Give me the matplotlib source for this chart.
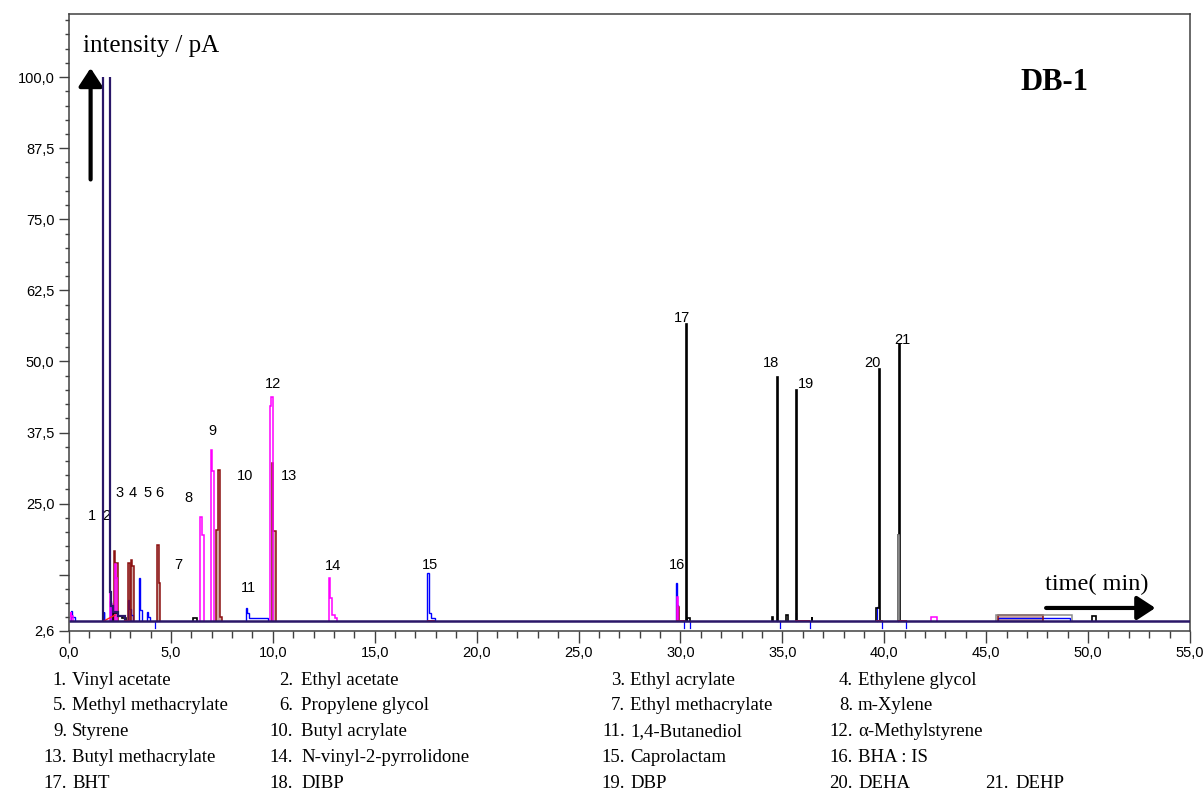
import matplotlib
matplotlib.use("Agg")
import matplotlib.pyplot as plt
from matplotlib.patches import Rectangle
from matplotlib.ticker import MultipleLocator, FixedLocator, FuncFormatter

# detector baseline (pA)
BASE = 4.4

# stepped peak profiles per trace: (edges in min, levels in pA)
navy_peaks = [
    ([1.69, 2.00, 2.05, 2.15, 2.40, 2.75], [101.0, 9.5, 7.0, 6.0, 5.2]),  # peaks 1+2, off scale
]
magenta_peaks = [
    ([0.08, 0.12, 0.20], [6.0, 5.2]),
    ([2.00, 2.06, 2.12], [9.3, 7.4]),
    ([2.25, 2.29, 2.34], [14.4, 12.0]),
    ([6.45, 6.52, 6.60], [22.6, 19.5]),
    ([6.96, 7.03, 7.12], [34.5, 30.8]),
    ([9.86, 9.93, 10.00], [42.1, 43.7]),
    ([12.74, 12.82, 12.90, 13.06, 13.15], [11.9, 8.4, 5.4, 4.9]),
    ([29.84, 29.88], [8.5]),
    ([42.30, 42.60], [5.0]),
]
darkred_peaks = [
    ([2.20, 2.25, 2.38], [16.7, 14.6]),
    ([2.90, 2.97], [14.6]),
    ([3.03, 3.10, 3.17], [15.1, 14.0]),
    ([4.34, 4.40, 4.47], [17.7, 11.1]),
    ([7.22, 7.33, 7.40, 7.50], [20.4, 30.9, 5.0]),
    ([9.98, 10.02, 10.15], [32.1, 20.1]),
    ([29.82, 29.93], [6.9]),
    ([45.60, 47.80], [5.4]),
]
blue_peaks = [
    ([0.10, 0.14, 0.30], [6.2, 5.0]),
    ([1.70, 1.73], [5.9]),
    ([2.00, 2.05], [7.8]),
    ([2.90, 2.96, 3.05, 3.12], [8.1, 6.5, 5.5]),
    ([3.42, 3.48, 3.60], [11.9, 6.3]),
    ([3.83, 3.90, 3.95], [6.0, 5.0]),
    ([8.68, 8.74, 8.81, 9.74], [6.6, 5.7, 4.9]),
    ([17.57, 17.64, 17.75, 17.98], [12.8, 5.7, 4.8]),
    ([29.78, 29.83, 29.90], [11.0, 7.2]),
    ([45.60, 49.10], [4.9]),
]
black_peaks = [
    ([2.15, 2.40, 2.60, 2.80], [5.8, 5.2, 4.9]),
    ([6.07, 6.27], [4.9]),
    ([30.27, 30.32], [56.5]),
    ([30.34, 30.47], [4.8]),
    ([34.50, 34.53], [5.0]),
    ([34.73, 34.79], [47.2]),
    ([35.17, 35.30], [5.4]),
    ([35.66, 35.71], [45.0]),
    ([36.43, 36.47], [5.0]),
    ([39.60, 39.72, 39.78], [6.6, 48.7]),
    ([40.65, 40.70, 40.78], [19.5, 53.0]),
    ([50.20, 50.40], [5.3]),
]
gray_peaks = [
    ([40.65, 40.70], [19.5]),
    ([45.50, 49.20], [5.4]),
]
# integration marks
red_segments = [(2.75, 2.95), (17.60, 17.90), (29.85, 30.17), (35.69, 36.30), (39.65, 39.87), (40.72, 41.06)]
blue_drops = [4.22, 30.17, 30.47, 34.89, 36.35, 39.87, 41.06]
blue_rises = [(34.76, 5.8), (35.68, 5.8), (39.62, 6.9), (40.66, 6.0), (30.29, 6.2)]

peak_label_text = ["1", "2", "3", "4", "5", "6", "7", "8", "9", "10", "11",
                   "12", "13", "14", "15", "16", "17", "18", "19", "20", "21"]
peak_label_t = [1.13, 1.82, 2.46, 3.14, 3.83, 4.42, 5.35, 5.85, 7.02, 8.65, 8.79,
                10.02, 10.80, 12.97, 17.73, 29.81, 30.10, 34.43, 36.15, 39.44, 40.87]
peak_label_y = [22.9, 22.9, 26.9, 26.9, 26.9, 26.9, 14.2, 26.0, 37.8, 29.9, 10.2,
                46.1, 29.9, 14.0, 14.2, 14.2, 57.7, 49.8, 46.1, 49.8, 53.7]

compounds = ["Vinyl acetate", "Ethyl acetate", "Ethyl acrylate", "Ethylene glycol",
             "Methyl methacrylate", "Propylene glycol", "Ethyl methacrylate", "m-Xylene",
             "Styrene", "Butyl acrylate", "1,4-Butanediol", "\u03b1-Methylstyrene",
             "Butyl methacrylate", "N-vinyl-2-pyrrolidone", "Caprolactam", "BHA : IS",
             "BHT", "DIBP", "DBP", "DEHA", "DEHP"]

y_ticks = [2.6, 12.5, 25.0, 37.5, 50.0, 62.5, 75.0, 87.5, 100.0]
y_tick_labels = ["2,6", "", "25,0", "37,5", "50,0", "62,5", "75,0", "87,5", "100,0"]

NAVY = "#2a1768"
MAGENTA = "#ff00ff"
DARKRED = "#8b1010"
FILL = "#cfa8a2"
BLUE = "#0000ff"
GRAY = "#8a8a8a"
RED = "#ff2020"
SANS = "Liberation Sans"
SERIF = "Liberation Serif"

W, H = 1203, 791
fig = plt.figure(figsize=(W / 100, H / 100), dpi=100)
ax = fig.add_axes([69 / W, 1 - 631 / H, (1190 - 69) / W, (631 - 14) / H])
ax.set_xlim(0, 55)
ax.set_ylim(2.6, 111.1)

for edges, vals in blue_peaks:
    ax.stairs(vals, edges, baseline=BASE, color=BLUE, lw=1.0, zorder=2)
for edges, vals in darkred_peaks:
    ax.stairs(vals, edges, baseline=BASE, fill=True, color=FILL, lw=0, zorder=1)
    ax.stairs(vals, edges, baseline=BASE, color=DARKRED, lw=1.1, zorder=3)
for edges, vals in magenta_peaks:
    ax.stairs(vals, edges, baseline=BASE, color=MAGENTA, lw=1.1, zorder=3)
for edges, vals in black_peaks:
    ax.stairs(vals, edges, baseline=BASE, color="black", lw=1.2, zorder=4)
for edges, vals in gray_peaks:
    ax.stairs(vals, edges, baseline=BASE, color=GRAY, lw=1.1, zorder=4)

# saturated peaks are cut at the 100 pA full scale
full_scale = Rectangle((0, 2.6), 55, 100 - 2.6, transform=ax.transData)
for edges, vals in navy_peaks:
    art = ax.stairs(vals, edges, baseline=BASE, color=NAVY, lw=1.6, zorder=5)
    art.set_clip_path(full_scale)

for t0, t1 in red_segments:
    ax.plot([t0, t1], [BASE, BASE], color=RED, lw=1.4, zorder=5)
ax.plot([1.73, 2.26], [BASE, 5.4], color=RED, lw=1.0, zorder=5)
for t in blue_drops:
    ax.plot([t, t], [BASE, 3.1], color=BLUE, lw=0.9, zorder=2)
for t, top in blue_rises:
    ax.plot([t, t], [BASE, top], color=BLUE, lw=0.9, zorder=2)

ax.hlines(BASE, 0, 55, color=NAVY, lw=1.8, zorder=6)

for txt, t, y in zip(peak_label_text, peak_label_t, peak_label_y):
    ax.text(t, y, txt, ha="center", va="center", fontsize=10.5, family=SANS)

# axis direction arrows
arrow = dict(arrowstyle="-|>,head_length=0.55,head_width=0.36", lw=3.0, color="black",
             shrinkA=0, shrinkB=0, mutation_scale=20)
ax.annotate("", xy=(1.06, 101.6), xytext=(1.06, 82.0), arrowprops=arrow)
ax.annotate("", xy=(53.3, 6.65), xytext=(47.94, 6.65), arrowprops=arrow)

fig.text(83 / W, 1 - 52 / H, "intensity / pA", family=SERIF, fontsize=18, va="baseline")
fig.text(1020 / W, 1 - 90 / H, "DB-1", family=SERIF, fontsize=22, weight="bold", va="baseline")
fig.text(1045 / W, 1 - 590 / H, "time( min)", family=SERIF, fontsize=17.5, va="baseline")

# axes styling
for s in ax.spines.values():
    s.set_color("#404040")
    s.set_linewidth(1.1)
ax.xaxis.set_major_locator(MultipleLocator(5))
ax.xaxis.set_minor_locator(MultipleLocator(1))
ax.xaxis.set_major_formatter(FuncFormatter(lambda v, p: f"{v:.1f}".replace(".", ",")))
ax.yaxis.set_major_locator(FixedLocator(y_ticks))
ax.set_yticklabels(y_tick_labels)
ax.yaxis.set_minor_locator(MultipleLocator(2.5))
ax.tick_params(axis="x", which="major", direction="out", length=8.5, width=1, color="#404040", pad=2)
ax.tick_params(axis="x", which="minor", direction="out", length=5, width=1, color="#404040")
ax.tick_params(axis="y", which="major", direction="out", length=7.5, width=1, color="#404040", pad=3)
ax.tick_params(axis="y", which="minor", direction="out", length=3, width=1, color="#404040")
for lab in ax.get_xticklabels() + ax.get_yticklabels():
    lab.set_family(SANS)
    lab.set_fontsize(10.5)

# compound key under the chart
num_right = [67, 293, 625, 853, 1009]
name_left = [72, 301, 630, 858, 1015]
row_base = [685, 710.5, 736.5, 762, 787.5]
for i, name in enumerate(compounds):
    row, col = divmod(i, 4)
    if i == 20:
        row, col = 4, 4
    yb = 1 - row_base[row] / H
    fig.text(num_right[col] / W, yb, f"{i + 1}.", family=SERIF, fontsize=13.5,
             ha="right", va="baseline")
    fig.text(name_left[col] / W, yb, name, family=SERIF, fontsize=13.5,
             ha="left", va="baseline")

fig.savefig("out.png", dpi=100)
